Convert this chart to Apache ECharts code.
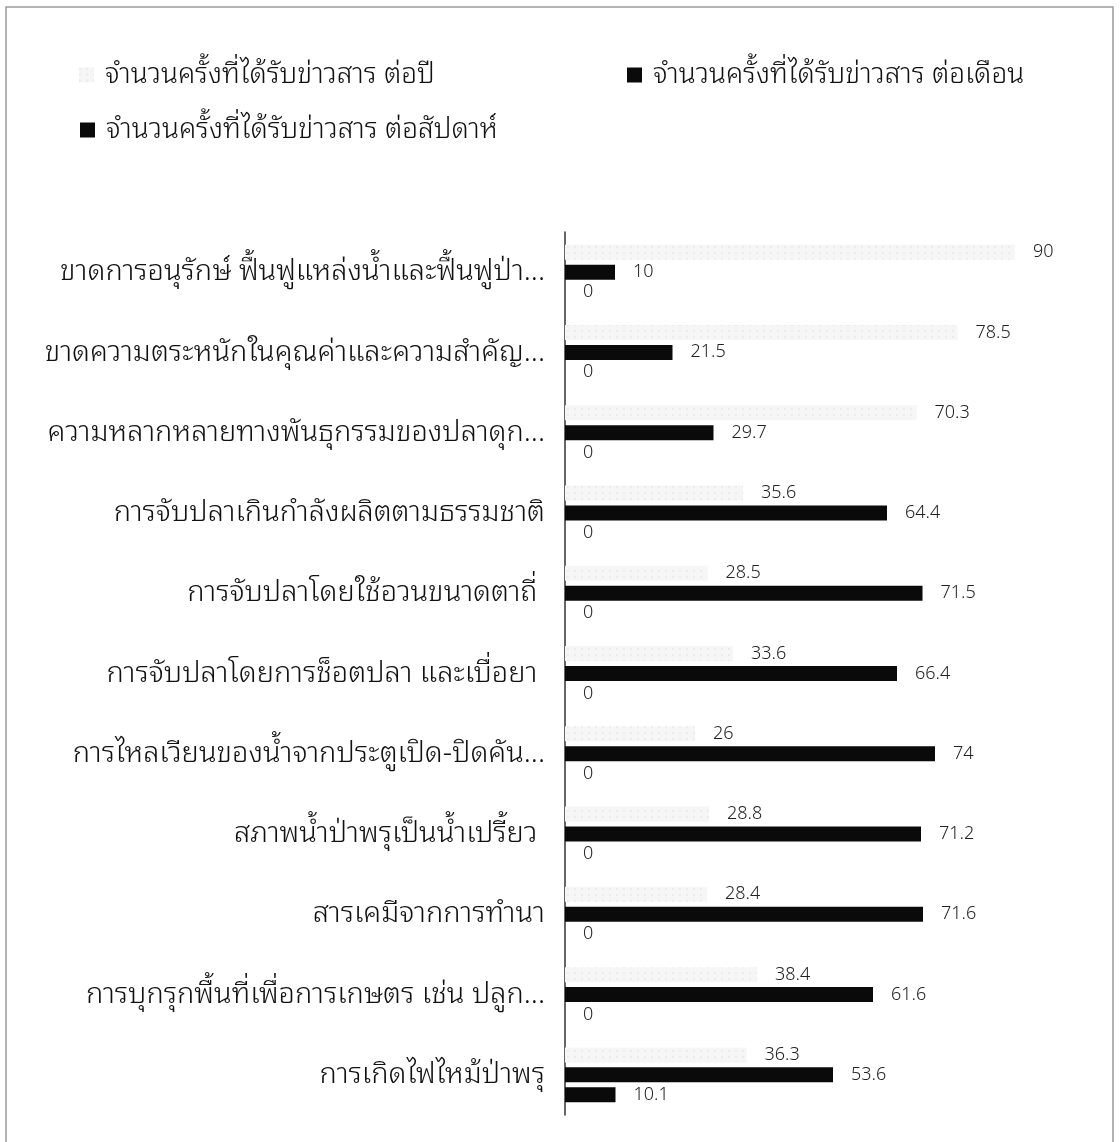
<!DOCTYPE html>
<html>
<head>
<meta charset="utf-8">
<script src="https://cdn.jsdelivr.net/npm/echarts@6/dist/echarts.min.js"></script>
<style>
  html, body { margin: 0; padding: 0; background: #fff; }
  #main { width: 1120px; height: 1142px; }
</style>
</head>
<body>
<div id="main"></div>
<script>
// หัวข้อปัญหา (บนลงล่าง)
const categories = [
  'ขาดการอนุรักษ์ ฟื้นฟูแหล่งน้ำและฟื้นฟูป่า...',
  'ขาดความตระหนักในคุณค่าและความสำคัญ...',
  'ความหลากหลายทางพันธุกรรมของปลาดุก...',
  'การจับปลาเกินกำลังผลิตตามธรรมชาติ',
  'การจับปลาโดยใช้อวนขนาดตาถี่ ',
  'การจับปลาโดยการช็อตปลา และเบื่อยา ',
  'การไหลเวียนของน้ำจากประตูเปิด-ปิดคัน...',
  'สภาพน้ำป่าพรุเป็นน้ำเปรี้ยว ',
  'สารเคมีจากการทำนา',
  'การบุกรุกพื้นที่เพื่อการเกษตร เช่น ปลูก...',
  'การเกิดไฟไหม้ป่าพรุ'
];
const perYear = [90, 78.5, 70.3, 35.6, 28.5, 33.6, 26, 28.8, 28.4, 38.4, 36.3];
const perMonth = [10, 21.5, 29.7, 64.4, 71.5, 66.4, 74, 71.2, 71.6, 61.6, 53.6];
const perWeek = [0, 0, 0, 0, 0, 0, 0, 0, 0, 0, 10.1];

const seriesNames = [
  'จำนวนครั้งที่ได้รับข่าวสาร ต่อปี',
  'จำนวนครั้งที่ได้รับข่าวสาร ต่อเดือน',
  'จำนวนครั้งที่ได้รับข่าวสาร ต่อสัปดาห์'
];

const font = '"Noto Sans Thai Looped", "Noto Sans Thai", "Noto Sans", sans-serif';
const chart = echarts.init(document.getElementById('main'));

const legendBase = {
  icon: 'rect',
  itemWidth: 15,
  itemHeight: 15,
  itemGap: 8,
  textStyle: { fontSize: 28, fontWeight: 300, color: '#111', fontFamily: font, padding: [0, 0, 0, 6] },
  selectedMode: false
};

const labelStyle = {
  show: true,
  position: 'right',
  distance: 18,
  fontSize: 18,
  fontWeight: 300,
  color: '#222',
  fontFamily: font
};

chart.setOption({
  animation: false,
  backgroundColor: '#fff',
  graphic: [{
    type: 'polyline',
    shape: { points: [[6, 1142], [6, 7], [1113, 7], [1113, 1142]] },
    style: { stroke: '#9a9a9a', lineWidth: 1.5, fill: null }
  }],
  legend: [
    Object.assign({ data: [{ name: seriesNames[0], itemStyle: { color: '#f6f6f6' } }], left: 74, top: 56 }, legendBase),
    Object.assign({ data: [seriesNames[1]], left: 622, top: 56 }, legendBase),
    Object.assign({ data: [seriesNames[2]], left: 75, top: 111 }, legendBase)
  ],
  grid: { left: 565, right: 55, top: 232, bottom: 27, containLabel: false },
  xAxis: {
    type: 'value',
    min: 0,
    max: 100,
    show: false
  },
  yAxis: {
    type: 'category',
    inverse: true,
    data: categories,
    axisLine: { show: true, lineStyle: { color: '#333', width: 1.5 } },
    axisTick: { show: false },
    axisLabel: { fontSize: 29, fontWeight: 300, color: '#111', margin: 20, fontFamily: font }
  },
  series: [
    {
      name: seriesNames[0],
      type: 'bar',
      data: perYear,
      barWidth: 15,
      barGap: '33%',
      itemStyle: {
        color: '#f6f6f6',
        decal: {
          symbol: 'rect',
          symbolSize: 0.6,
          dashArrayX: [2, 5],
          dashArrayY: [2, 4],
          color: 'rgba(170,170,170,0.45)'
        }
      },
      label: labelStyle
    },
    {
      name: seriesNames[1],
      type: 'bar',
      data: perMonth,
      barWidth: 15,
      barGap: '33%',
      itemStyle: { color: '#0a0a0a' },
      label: labelStyle
    },
    {
      name: seriesNames[2],
      type: 'bar',
      data: perWeek,
      barWidth: 15,
      barGap: '33%',
      itemStyle: { color: '#0a0a0a' },
      label: labelStyle
    }
  ]
});
</script>
</body>
</html>
